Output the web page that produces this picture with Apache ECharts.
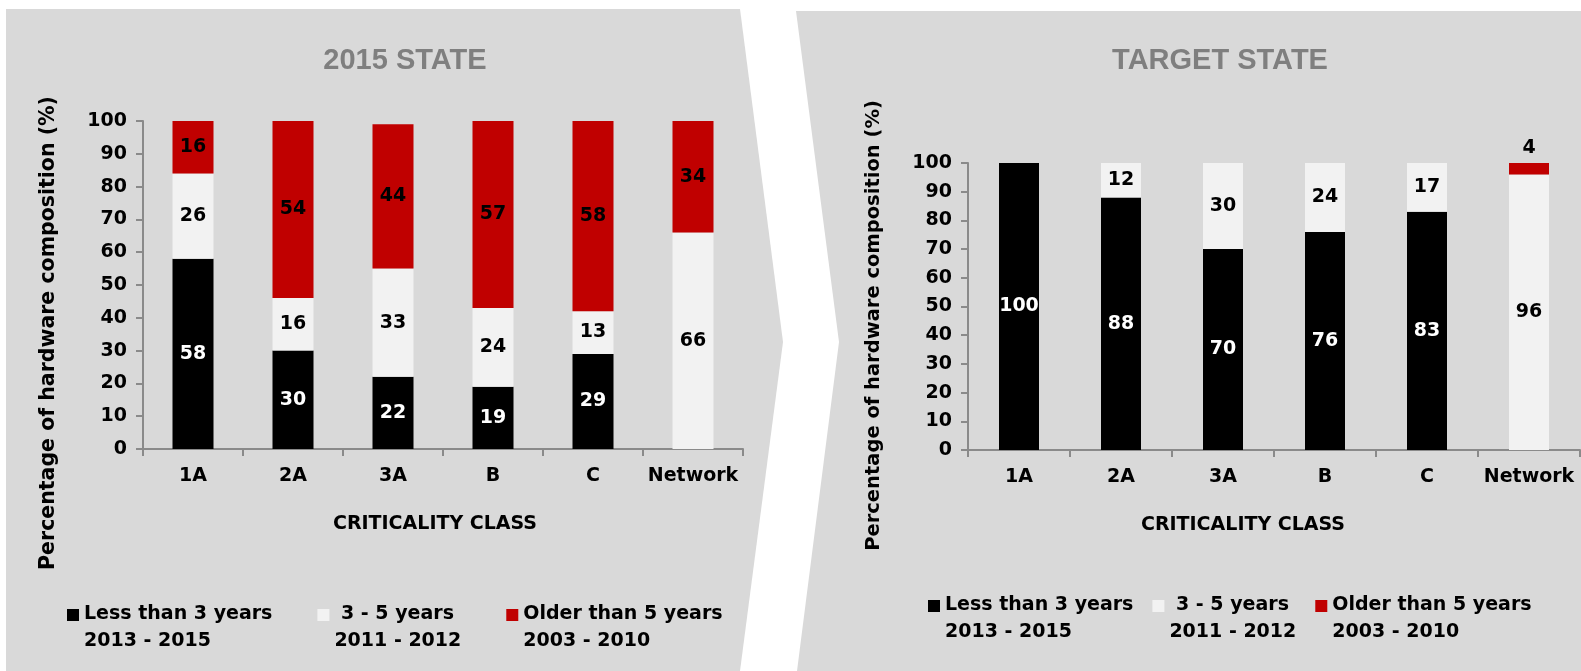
<!DOCTYPE html>
<html>
<head>
<meta charset="utf-8">
<title>Hardware age composition by criticality class</title>
<script src="https://cdn.jsdelivr.net/npm/echarts@6/dist/echarts.min.js"></script>
<style>
  html, body { margin: 0; padding: 0; background: #ffffff; }
  #chart { width: 1581px; height: 671px; }
</style>
</head>
<body>
<div id="chart"></div>
<script>
// Criticality classes on the x axis
const categories = ['1A', '2A', '3A', 'B', 'C', 'Network'];

// Age groups (legend) and their year ranges
const ageGroups = ['Less than 3 years', ' 3 - 5 years', 'Older than 5 years'];
const ageYears = ['2013 - 2015', '2011 - 2012', '2003 - 2010'];

// 2015 state, percentage of hardware per age group
const state2015Recent = [58, 30, 22, 19, 29, 0];
const state2015Mid = [26, 16, 33, 24, 13, 66];
const state2015Old = [16, 54, 44, 57, 58, 34];

// Target state, percentage of hardware per age group
const targetRecent = [100, 88, 70, 76, 83, 0];
const targetMid = [0, 12, 30, 24, 17, 96];
const targetOld = [0, 0, 0, 0, 0, 4];

// Y axis ticks
const yMin = 0, yMax = 100, yStep = 10;

const colors = ['#000000', '#f2f2f2', '#c00000'];
const labelColors = ['#ffffff', '#000000', '#000000'];
const FONT = "'DejaVu Sans', Verdana, sans-serif";
const TITLE_FONT = "'Liberation Sans', Arial, sans-serif";
const axisGrey = '#8a8a8a';

const chart = echarts.init(document.getElementById('chart'), null, { renderer: 'canvas' });

function yAxisCfg(gridIndex, nameSize, namePad) {
  return {
    gridIndex: gridIndex,
    type: 'value',
    min: yMin, max: yMax, interval: yStep,
    name: 'Percentage of hardware composition (%)',
    nameLocation: 'middle',
    nameGap: 84,
    nameTextStyle: { fontFamily: FONT, fontWeight: 'bold', fontSize: nameSize, color: '#000', padding: namePad },
    axisLine: { show: true, lineStyle: { color: axisGrey, width: 2 } },
    axisTick: { show: true, length: 7, lineStyle: { color: axisGrey, width: 2 } },
    splitLine: { show: false },
    axisLabel: { fontFamily: FONT, fontWeight: 'bold', fontSize: 19, color: '#000', margin: 16 }
  };
}

function xAxisCfg(gridIndex, namePad) {
  return {
    gridIndex: gridIndex,
    type: 'category',
    data: categories,
    name: 'CRITICALITY CLASS',
    nameLocation: 'middle',
    nameGap: 66,
    nameTextStyle: { fontFamily: FONT, fontWeight: 'bold', fontSize: 19, color: '#000', padding: namePad },
    axisLine: { show: true, lineStyle: { color: axisGrey, width: 2 } },
    axisTick: { show: true, length: 7, interval: 0, alignWithLabel: false, lineStyle: { color: axisGrey, width: 2 } },
    axisLabel: { interval: 0, fontFamily: FONT, fontWeight: 'bold', fontSize: 19, color: '#000', margin: 18 },
    splitLine: { show: false }
  };
}

function barSeries(idx, values, gridIndex, stack, barWidth, labelPos) {
  return {
    name: ageGroups[idx],
    type: 'bar',
    stack: stack,
    xAxisIndex: gridIndex,
    yAxisIndex: gridIndex,
    barWidth: barWidth,
    data: values,
    itemStyle: { color: colors[idx] },
    label: {
      show: true,
      position: labelPos || 'inside',
      fontFamily: FONT,
      fontWeight: 'bold',
      fontSize: 19,
      color: labelColors[idx],
      formatter: p => (p.value ? String(p.value) : '')
    },
    emphasis: { disabled: true }
  };
}

// Legend icon: square aligned with the first text line
const legendIcon = 'path://M0,0H12V12H0Z M0,38L0.01,38';

function legendCfg(left, top, gap) {
  return {
    left: left, top: top, padding: 0,
    itemGap: gap,
    itemWidth: 12, itemHeight: 38,
    icon: legendIcon,
    selectedMode: false,
    data: ageGroups,
    formatter: name => name + '\n' + ageYears[ageGroups.indexOf(name)],
    textStyle: { fontFamily: FONT, fontWeight: 'bold', fontSize: 19, color: '#000', lineHeight: 27 }
  };
}

const option = {
  backgroundColor: '#ffffff',
  animation: false,
  graphic: [
    { type: 'polygon', z: -10, silent: true,
      shape: { points: [[6, 9], [740, 9], [783, 342], [740, 671], [6, 671]] },
      style: { fill: '#d9d9d9' } },
    { type: 'polygon', z: -10, silent: true,
      shape: { points: [[796, 11], [1581, 11], [1581, 671], [797, 671], [839, 342]] },
      style: { fill: '#d9d9d9' } }
  ],
  title: [
    { text: '2015 STATE', left: 400, top: 41, textAlign: 'center',
      textStyle: { fontFamily: TITLE_FONT, fontWeight: 'bold', fontSize: 29, color: '#7f7f7f' } },
    { text: 'TARGET STATE', left: 1215, top: 41, textAlign: 'center',
      textStyle: { fontFamily: TITLE_FONT, fontWeight: 'bold', fontSize: 29, color: '#7f7f7f' } }
  ],
  legend: [
    legendCfg(67, 601, 45),
    legendCfg(928, 592, 19)
  ],
  grid: [
    { left: 143, top: 121, width: 600, height: 328, containLabel: false },
    { left: 968, top: 163, width: 612, height: 287, containLabel: false }
  ],
  xAxis: [xAxisCfg(0, [0, 16, 0, 0]), xAxisCfg(1, [0, 62, 0, 0])],
  yAxis: [yAxisCfg(0, 20.5, [0, 96, 0, 0]), yAxisCfg(1, 19.5, [0, 38, 0, 0])],
  series: [
    barSeries(0, state2015Recent, 0, 'now', 41),
    barSeries(1, state2015Mid, 0, 'now', 41),
    barSeries(2, state2015Old, 0, 'now', 41),
    barSeries(0, targetRecent, 1, 'target', 40),
    barSeries(1, targetMid, 1, 'target', 40),
    barSeries(2, targetOld, 1, 'target', 40, 'top')
  ]
};

chart.setOption(option);
</script>
</body>
</html>
